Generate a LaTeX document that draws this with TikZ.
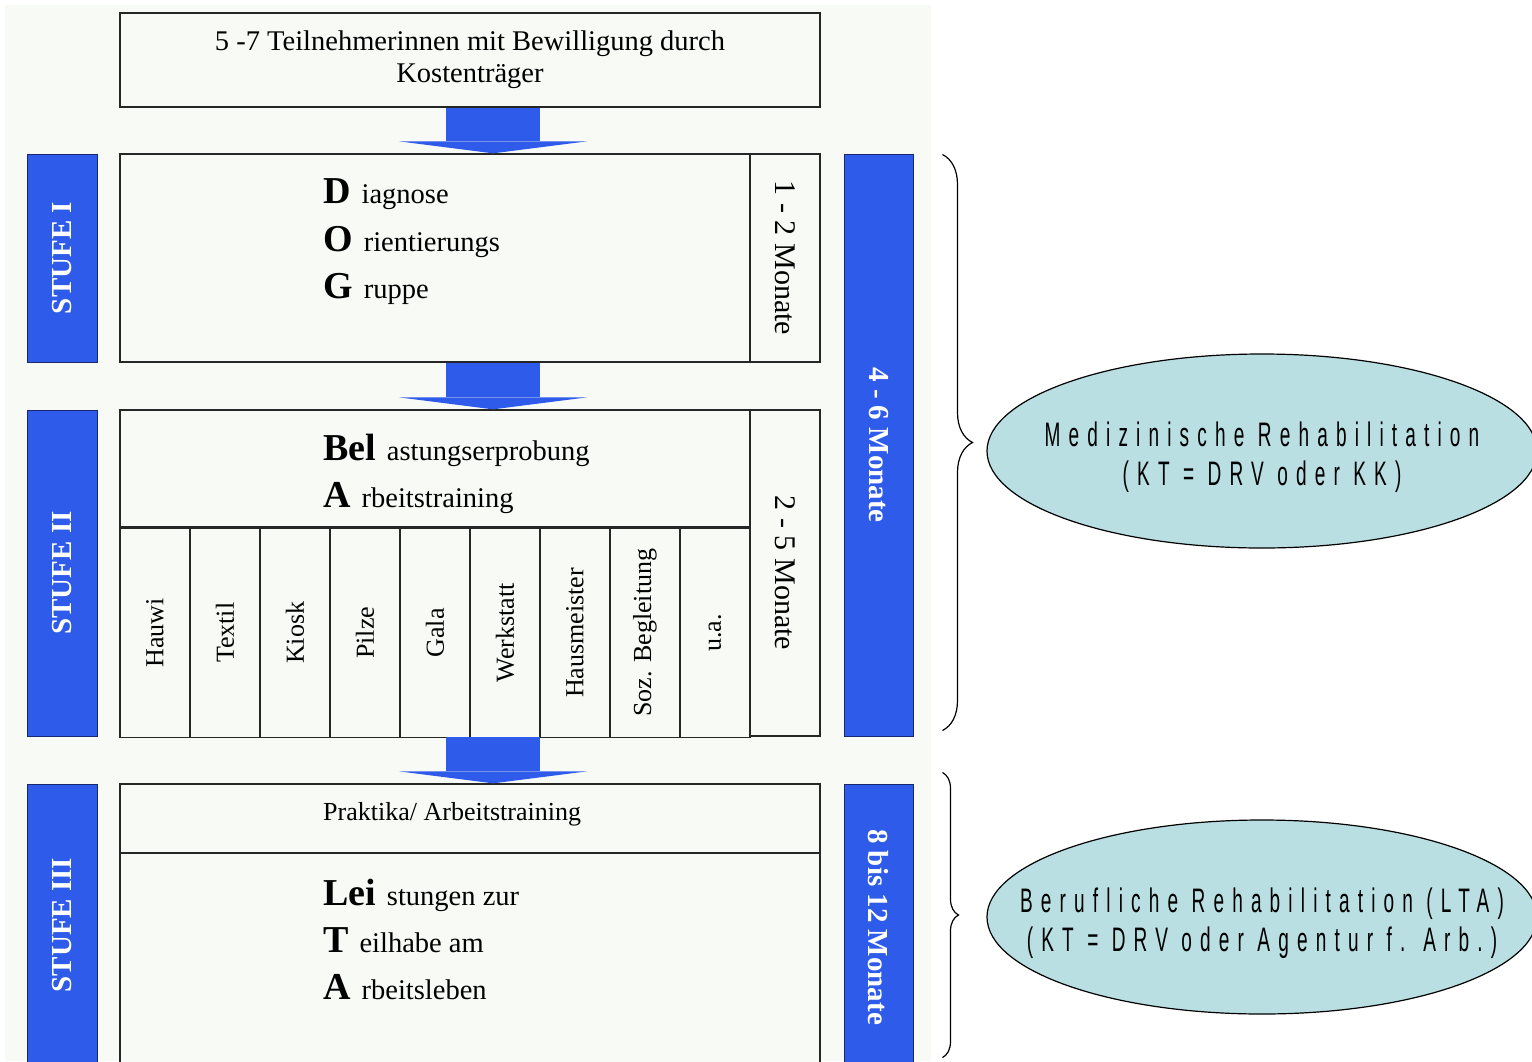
\documentclass[tikz,border=0pt]{standalone}
\usepackage{fontspec}
\setmainfont{Liberation Serif}
\newfontfamily\ellfont[FakeStretch=0.56,LetterSpace=24]{Liberation Sans}
\usepackage{graphicx}
\usetikzlibrary{shapes.geometric, arrows.meta, positioning, calc, decorations.pathreplacing}

\definecolor{stufeblue}{RGB}{47,91,234}
\definecolor{stufeline}{RGB}{25,40,110}
\definecolor{pagebg}{RGB}{248,250,246}
\definecolor{ellfill}{RGB}{185,223,227}

% big bold initial, rest of the word in normal size
\newcommand{\initword}[2]{{\fontsize{38}{40}\selectfont\bfseries #1}\hspace{11pt}#2}

\begin{document}
\begin{tikzpicture}[
    x=1pt, y=-1pt,
    font=\fontsize{28.5}{32}\selectfont,
    box/.style={draw=black!85, line width=1.3pt, fill=pagebg, inner sep=0pt, align=center},
    bar/.style={draw=stufeline, line width=1pt, fill=stufeblue, text=white, inner sep=0pt, minimum width=70, font=\fontsize{29}{30}\selectfont\bfseries},
    monate/.style={box, minimum width=70, font=\fontsize{30}{32}\selectfont},
    fach/.style={box, minimum width=70, minimum height=209, anchor=north west, font=\fontsize{26}{28}\selectfont},
    initline/.style={anchor=base west, inner sep=0pt},
    flow/.style={draw=stufeblue, line width=94pt, -{Triangle[line width=0pt, length=12pt, width=188pt]}},
    ell/.style={ellipse, draw, line width=1.2pt, fill=ellfill, minimum width=550, minimum height=194, inner sep=0pt},
    elltext/.style={align=center, inner sep=0pt, font={\ellfont\fontsize{34}{39}\selectfont}},
    curly/.style={decorate, draw, line width=1.2pt}
]
    \useasboundingbox[fill=white] (0,0) rectangle (1532,1061);
    \clip (0,0) rectangle (1532,1061);
    \fill[pagebg] (5,5) rectangle (931,1061);

    % Kostentraeger
    \node[box, minimum width=700, minimum height=94] (top) at (470,60) {5 -7 Teilnehmerinnen mit Bewilligung durch\\Kostenträger};

    % Stufe I
    \node[box, minimum width=700, minimum height=208] (stage1) at (470,258) {};
    \node[monate, minimum height=208, anchor=north east] (m12) at (stage1.north east) {\rotatebox{-90}{1 - 2 Monate}};
    \node[initline] (dog1) at (323,203) {\initword{D}{iagnose}};
    \node[initline] (dog2) at (323,251) {\initword{O}{rientierungs}};
    \node[initline] (dog3) at (323,298) {\initword{G}{ruppe}};

    % Stufe II
    \node[box, minimum width=700, minimum height=326] (stage2) at (470,573) {};
    \node[monate, minimum height=326, anchor=north east] (m25) at (stage2.north east) {\rotatebox{-90}{2 - 5 Monate}};
    \node[box, minimum width=630, minimum height=117, anchor=north west] (bela) at (stage2.north west) {};
    \node[initline] (bela1) at (323,460) {\initword{Bel}{astungserprobung}};
    \node[initline] (bela2) at (323,507) {\initword{A}{rbeitstraining}};
    \foreach \lbl [count=\i] in {Hauwi, Textil, Kiosk, Pilze, Gala, Werkstatt, Hausmeister, Soz. Begleitung, u.a.}
        \node[fach] (col\i) at ($(bela.south west)+({70*(\i-1)},0)$) {\rotatebox{90}{\lbl}};

    % Stufe III
    \node[box, minimum width=700, minimum height=286] (stage3) at (470,927) {};
    \node[box, minimum width=700, minimum height=69, anchor=north] (prak) at (stage3.north) {};
    \node[initline, font=\fontsize{26}{28}\selectfont] (praktext) at (323,820) {Praktika/ Arbeitstraining};
    \node[initline] (lta1) at (323,905) {\initword{Lei}{stungen zur}};
    \node[initline] (lta2) at (323,952) {\initword{T}{eilhabe am}};
    \node[initline] (lta3) at (323,999) {\initword{A}{rbeitsleben}};

    % Stufen and durations
    \node[bar, minimum height=208] (s1) at (62,258) {\rotatebox{90}{STUFE I}};
    \node[bar, minimum height=326] (s2) at (62,573) {\rotatebox{90}{STUFE II}};
    \node[bar, minimum height=282] (s3) at (62,925) {\rotatebox{90}{STUFE III}};
    \node[bar, minimum width=69, minimum height=582] (m46) at (878.5,445) {\rotatebox{-90}{4 - 6 Monate}};
    \node[bar, minimum width=69, minimum height=286] (m812) at (878.5,927) {\rotatebox{-90}{8 bis 12 Monate}};

    % Arrows
    \coordinate (ax) at (493,0);
    \draw[flow] (top.south -| ax) -- (stage1.north -| ax);
    \draw[flow] (stage1.south -| ax) -- (stage2.north -| ax);
    \draw[flow] (stage2.south -| ax) -- (stage3.north -| ax);

    % Rehabilitation
    \node[ell] (med) at (1262,451) {};
    \node[elltext, yshift=-6pt] (medtext) at (med) {Medizinische Rehabilitation\\(KT = DRV oder KK)};
    \node[ell] (beruf) at (1262,917) {};
    \node[elltext, yshift=-6pt] (bereftext) at (beruf) {Berufliche Rehabilitation (LTA)\\(KT = DRV oder Agentur f. Arb.)};

    \draw[curly, decoration={brace, amplitude=30pt}] ($(m46.north east)+(29,1)$) -- ($(m46.south east)+(29,-6)$);
    \draw[curly, decoration={brace, amplitude=16pt}] ($(m812.north east)+(29,-11)$) -- ($(m812.north east)+(29,274)$);
\end{tikzpicture}
\end{document}
